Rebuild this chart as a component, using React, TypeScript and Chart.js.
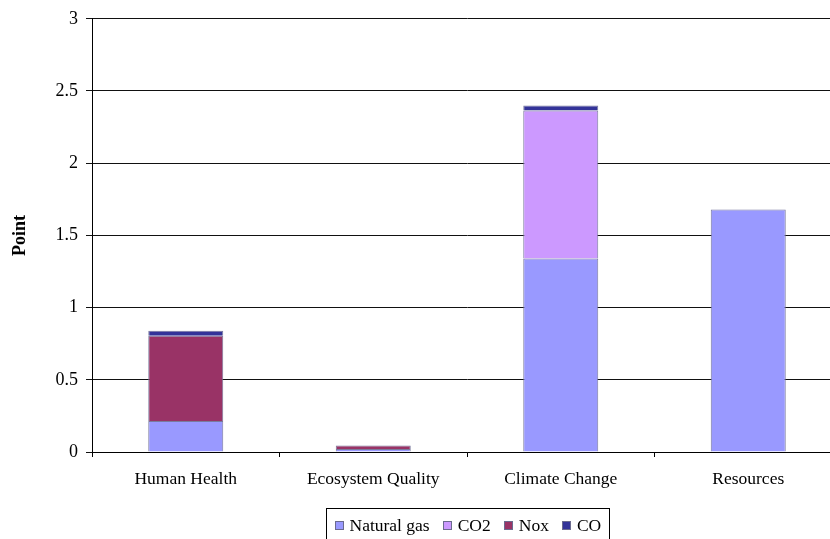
import { useEffect, useRef } from "react";
import { Chart, registerables } from "chart.js";

Chart.register(...registerables);

const categories = ["Human Health", "Ecosystem Quality", "Climate Change", "Resources"];
const seriesNames = ["Natural gas", "CO2", "Nox", "CO"];
const naturalGas = [0.215, 0.02, 1.34, 1.68];
const co2 = [null, null, 1.025, null];
const nox = [0.59, 0.025, null, null];
const co = [0.035, null, 0.035, null];
const seriesColors = ["#9999FF", "#CC99FF", "#993366", "#333399"];
const yTicksMin = 0;
const yTicksMax = 3;
const yTicksStep = 0.5;

const FONT = "'Liberation Serif', 'Times New Roman', serif";

const boxLegend = {
  id: "boxLegend",
  afterDraw(chart: any) {
    const ctx = chart.ctx as CanvasRenderingContext2D;
    const ds = chart.data.datasets;
    ctx.save();
    ctx.font = `17.5px ${FONT}`;
    const marker = 9;
    const gapMT = 6;
    const gapItem = 13;
    const padX = 8;
    const widths = ds.map((d: any) => ctx.measureText(d.label).width);
    const total =
      widths.reduce((a: number, w: number) => a + marker + gapMT + w, 0) + gapItem * (ds.length - 1);
    const boxW = Math.round(total + 2 * padX);
    const cx = (chart.chartArea.left + chart.chartArea.right) / 2;
    const left = Math.round(cx - boxW / 2) + 0.5;
    const top = 508.5;
    ctx.strokeStyle = "#000";
    ctx.lineWidth = 1;
    ctx.strokeRect(left, top, boxW, 60);
    let x = left + padX;
    const cy = 526;
    ds.forEach((d: any, i: number) => {
      const mx = Math.round(x);
      ctx.fillStyle = d.backgroundColor;
      ctx.fillRect(mx, cy - 5, marker, marker);
      ctx.strokeStyle = "#6b6b8f";
      ctx.strokeRect(mx + 0.5, cy - 4.5, marker - 1, marker - 1);
      ctx.fillStyle = "#000";
      ctx.textBaseline = "middle";
      ctx.textAlign = "left";
      ctx.fillText(d.label, x + marker + gapMT, cy);
      x += marker + gapMT + widths[i] + gapItem;
    });
    ctx.restore();
  },
};

export default function App() {
  const ref = useRef<HTMLCanvasElement | null>(null);

  useEffect(() => {
    if (!ref.current) return;
    const seriesData = [naturalGas, co2, nox, co];
    const chart = new Chart(ref.current, {
      type: "bar",
      data: {
        labels: categories,
        datasets: seriesNames.map((name, i) => ({
          label: name,
          data: seriesData[i] as any,
          backgroundColor: seriesColors[i],
          borderColor: "#7a7a9e",
          borderWidth: 1,
          barPercentage: 0.4,
          categoryPercentage: 1,
        })),
      },
      options: {
        animation: false,
        responsive: false,
        layout: { padding: { left: 0, right: 8, top: 16.5, bottom: 0 } },
        plugins: {
          legend: { display: false },
          tooltip: { enabled: false },
        },
        scales: {
          x: {
            stacked: true,
            offset: true,
            grid: {
              offset: true,
              drawOnChartArea: false,
              drawTicks: true,
              tickLength: 5,
              color: "#000",
            },
            border: { color: "#000", width: 1 },
            ticks: {
              padding: 12,
              color: "#000",
              font: { family: FONT, size: 17.5 },
              maxRotation: 0,
            },
            afterFit: (s: any) => {
              s.height = 87;
            },
          },
          y: {
            stacked: true,
            min: yTicksMin,
            max: yTicksMax,
            ticks: {
              stepSize: yTicksStep,
              padding: 8,
              color: "#000",
              font: { family: FONT, size: 18 },
              callback: (v: any) => String(Number(v)),
            },
            grid: { color: "#111", tickLength: 6, lineWidth: 1 },
            border: { color: "#000", width: 1 },
            title: {
              display: true,
              text: "Point",
              color: "#000",
              font: { family: FONT, size: 18, weight: "bold" },
              padding: { top: 10, bottom: 0 },
            },
            afterFit: (s: any) => {
              s.width = 92;
            },
          },
        },
      },
      plugins: [boxLegend],
    });
    return () => chart.destroy();
  }, []);

  return (
    <div
      style={{
        position: "fixed",
        left: 0,
        top: 0,
        width: 830,
        height: 539,
        overflow: "hidden",
        background: "#fff",
      }}
    >
      <canvas ref={ref} width={850} height={539} style={{ width: 850, height: 539, display: "block" }} />
    </div>
  );
}
